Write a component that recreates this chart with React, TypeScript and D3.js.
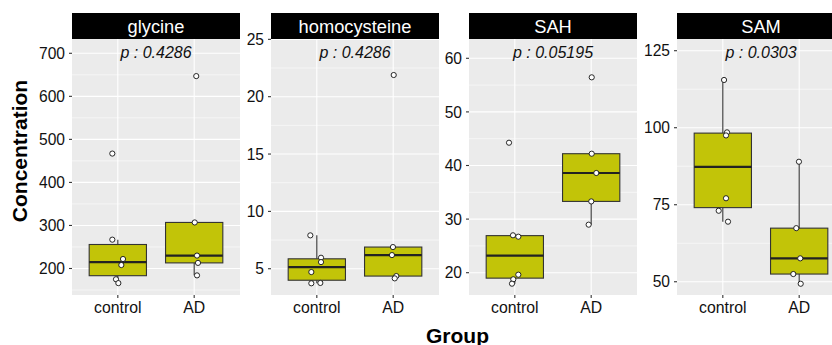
import React from 'react';
import * as d3 from 'd3';

// Groups on the x axis
const groups = ['control', 'AD'];

// Facet names and p-value labels
const facets = ['glycine', 'homocysteine', 'SAH', 'SAM'];
const pLabels = ['p : 0.4286', 'p : 0.4286', 'p : 0.05195', 'p : 0.0303'];

// Concentrations
const glycineControl = [467, 267, 222, 208, 175, 166];
const glycineAD = [647, 307, 230, 213, 184];
const homocysteineControl = [7.91, 5.96, 5.58, 4.71, 3.73, 3.76];
const homocysteineAD = [21.89, 6.89, 6.19, 4.36, 4.16];
const sahControl = [44.25, 26.98, 26.72, 19.63, 18.77, 17.95];
const sahAD = [56.45, 42.2, 38.6, 33.3, 28.96];
const samControl = [115.5, 98.5, 97.5, 77.1, 73.05, 69.5];
const samAD = [88.96, 67.4, 57.6, 52.5, 49.35];

// Horizontal jitter of each point, in category units
const glycineControlJitter = [-0.072, -0.072, 0.068, 0.046, -0.024, 0.007];
const glycineADJitter = [0.027, 0.007, 0.037, 0.05, 0.037];
const homocysteineControlJitter = [-0.085, 0.055, 0.055, -0.072, -0.072, 0.046];
const homocysteineADJitter = [0.007, -0.003, -0.016, 0.041, 0.02];
const sahControlJitter = [-0.076, -0.024, 0.046, 0.046, -0.02, -0.037];
const sahADJitter = [0.007, 0.007, 0.067, 0.001, -0.033];
const samControlJitter = [0.016, 0.055, 0.042, 0.042, -0.054, 0.068];
const samADJitter = [-0.003, -0.038, 0.014, -0.077, 0.02];

// y axis ranges and tick values
const glycineDomain = [138.4, 733.2];
const homocysteineDomain = [2.71, 25.03];
const sahDomain = [15.84, 63.6];
const samDomain = [45.7, 128.8];
const glycineTicks = [200, 300, 400, 500, 600, 700];
const homocysteineTicks = [5, 10, 15, 20, 25];
const sahTicks = [20, 30, 40, 50, 60];
const samTicks = [50, 75, 100, 125];

const facetValues = [
  [glycineControl, glycineAD],
  [homocysteineControl, homocysteineAD],
  [sahControl, sahAD],
  [samControl, samAD],
];
const facetJitter = [
  [glycineControlJitter, glycineADJitter],
  [homocysteineControlJitter, homocysteineADJitter],
  [sahControlJitter, sahADJitter],
  [samControlJitter, samADJitter],
];
const facetDomains = [glycineDomain, homocysteineDomain, sahDomain, samDomain];
const facetTicks = [glycineTicks, homocysteineTicks, sahTicks, samTicks];

// layout
const W = 832;
const H = 345;
const panelLefts = [72, 271, 469, 677];
const panelW = 168;
const panelTop = 39;
const panelBottom = 295;
const stripTop = 13;
const boxFill = '#C2C408';
const font = '"Liberation Sans", Arial, sans-serif';

const boxStats = (vals: number[]) => {
  const s = [...vals].sort(d3.ascending);
  const q1 = d3.quantile(s, 0.25)!;
  const med = d3.quantile(s, 0.5)!;
  const q3 = d3.quantile(s, 0.75)!;
  const iqr = q3 - q1;
  const lo = d3.min(s.filter(v => v >= q1 - 1.5 * iqr))!;
  const hi = d3.max(s.filter(v => v <= q3 + 1.5 * iqr))!;
  return { q1, med, q3, lo, hi };
};

const Panel = ({ i }: { i: number }) => {
  const left = panelLefts[i];
  const x = d3.scaleLinear().domain([0.4, 2.6]).range([0, panelW]);
  const y = d3.scaleLinear().domain(facetDomains[i]).range([panelBottom - panelTop, 0]);
  const ticks = facetTicks[i];
  const step = ticks[1] - ticks[0];
  const minor = d3.range(ticks[0] - step / 2, facetDomains[i][1], step)
    .filter(v => v > facetDomains[i][0]);
  const ph = panelBottom - panelTop;
  const bw = 0.75;

  return (
    <g transform={`translate(${left},${panelTop})`}>
      <rect width={panelW} height={ph} fill="#EBEBEB" />
      {minor.map(v => (
        <line key={'m' + v} x1={0} x2={panelW} y1={y(v)} y2={y(v)} stroke="#fff" strokeWidth={0.55} />
      ))}
      {ticks.map(v => (
        <line key={'g' + v} x1={0} x2={panelW} y1={y(v)} y2={y(v)} stroke="#fff" strokeWidth={1.1} />
      ))}
      {groups.map((g, k) => (
        <line key={'v' + g} x1={x(k + 1)} x2={x(k + 1)} y1={0} y2={ph} stroke="#fff" strokeWidth={1.1} />
      ))}

      {/* boxes */}
      {facetValues[i].map((vals, k) => {
        const st = boxStats(vals);
        const cx = x(k + 1);
        const x0 = x(k + 1 - bw / 2);
        const x1 = x(k + 1 + bw / 2);
        return (
          <g key={'b' + k}>
            <line x1={cx} x2={cx} y1={y(st.q3)} y2={y(st.hi)} stroke="#333" strokeWidth={1.1} />
            <line x1={cx} x2={cx} y1={y(st.q1)} y2={y(st.lo)} stroke="#333" strokeWidth={1.1} />
            <rect x={x0} width={x1 - x0} y={y(st.q3)} height={y(st.q1) - y(st.q3)}
              fill={boxFill} stroke="#333" strokeWidth={1.1} />
            <line x1={x0} x2={x1} y1={y(st.med)} y2={y(st.med)} stroke="#222" strokeWidth={2.2} />
          </g>
        );
      })}

      {/* jittered points */}
      {facetValues[i].map((vals, k) =>
        vals.map((v, j) => (
          <circle key={`p${k}-${j}`} cx={x(k + 1 + facetJitter[i][k][j])} cy={y(v)} r={2.6}
            fill="#fff" stroke="#111" strokeWidth={0.9} />
        ))
      )}

      <text x={panelW / 2} y={58.3 - panelTop} textAnchor="middle" fontStyle="italic"
        fontSize={16} fill="#111" fontFamily={font}>{pLabels[i]}</text>

      {/* strip */}
      <rect x={0} y={stripTop - panelTop} width={panelW} height={panelTop - stripTop} fill="#000" />
      <text x={panelW / 2} y={33 - panelTop} textAnchor="middle" fontSize={18.3} fill="#fff"
        fontFamily={font}>{facets[i]}</text>

      {/* y axis */}
      {ticks.map(v => (
        <g key={'t' + v} transform={`translate(0,${y(v)})`}>
          <line x1={-3} x2={0} stroke="#333" strokeWidth={1.1} />
          <text x={-7} dy="0.36em" textAnchor="end" fontSize={15.6} fill="#111" fontFamily={font}>{v}</text>
        </g>
      ))}

      {/* x axis */}
      {groups.map((g, k) => (
        <g key={'x' + g} transform={`translate(${x(k + 1)},${ph})`}>
          <line y1={0} y2={3} stroke="#333" strokeWidth={1.1} />
          <text y={313 - panelBottom} textAnchor="middle" fontSize={15.8} fill="#111" fontFamily={font}>{g}</text>
        </g>
      ))}
    </g>
  );
};

export default function App() {
  return (
    <svg width={W} height={H} style={{ position: 'absolute', left: 0, top: 0, display: 'block', background: '#fff' }}>
      {facets.map((f, i) => <Panel key={f} i={i} />)}
      <text transform="translate(27,151) rotate(-90)" textAnchor="middle" fontSize={21}
        fontWeight="bold" fill="#000" fontFamily={font}>Concentration</text>
      <text x={457.5} y={343} textAnchor="middle" fontSize={21} fontWeight="bold" fill="#000"
        fontFamily={font}>Group</text>
    </svg>
  );
}
